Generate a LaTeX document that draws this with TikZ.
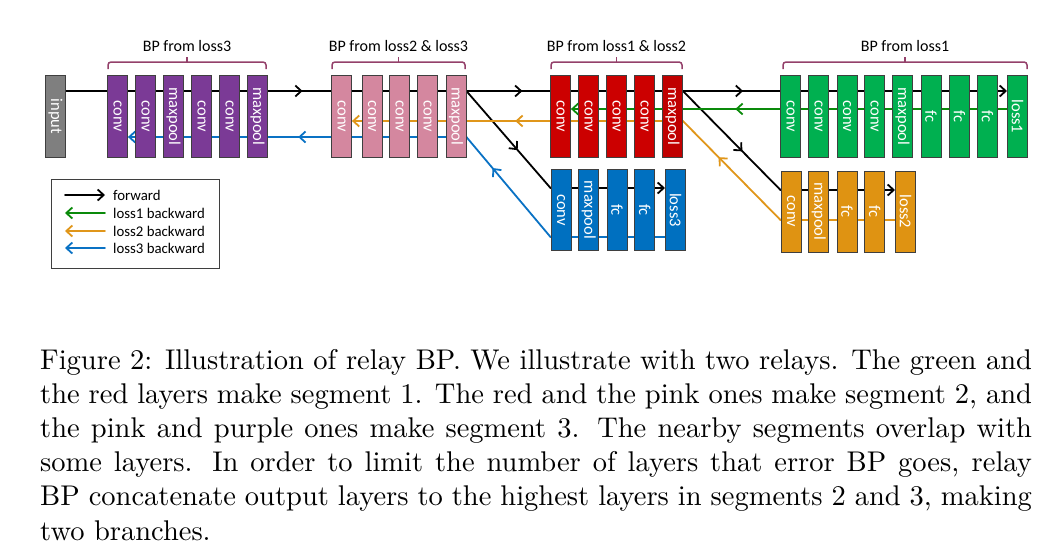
\documentclass[tikz,border=0pt]{standalone}
\usepackage{fontspec}
\newfontfamily\calib{Carlito}
\usetikzlibrary{arrows.meta,decorations.markings}
\pgfdeclarelayer{bg}
\pgfsetlayers{bg,main}
\definecolor{cgray}{HTML}{7F7F7F}
\definecolor{cpurple}{HTML}{7B3A96}
\definecolor{cpink}{HTML}{D4879F}
\definecolor{cred}{HTML}{CC0000}
\definecolor{cdred}{HTML}{C00000}
\definecolor{cgreen}{HTML}{00B050}
\definecolor{cblue}{HTML}{0070C0}
\definecolor{corange}{HTML}{DF9312}
\definecolor{lgreen}{HTML}{0A8A0A}
\definecolor{lorange}{HTML}{E0961A}
\definecolor{lblue}{HTML}{0A72C4}
\definecolor{cbrace}{HTML}{94406A}
\definecolor{cedge}{HTML}{3F3F3F}
\newcommand\vt[1]{\rotatebox{-90}{#1}}
\newcommand\capl[1]{\hbox to 348pt{#1}}
\begin{document}
\begin{tikzpicture}[x=1pt,y=-1pt,
  >={Straight Barb[length=6pt,width=11pt]},
  lay/.style={draw=cedge, line width=0.9pt, minimum width=20pt, minimum height=82pt,
    inner sep=0pt, anchor=north west, text=white, font=\calib\fontsize{16.5}{18}\selectfont},
  brl/.style={lay, minimum height=81pt},
  fwdl/.style={line width=1.8pt, black, line cap=round},
  g1l/.style={line width=1.8pt, lgreen, line cap=round},
  g2l/.style={line width=1.8pt, lorange, line cap=round},
  g3l/.style={line width=1.8pt, lblue, line cap=round},
  midarr/.style={postaction={decorate,decoration={markings,mark=at position #1 with {\arrow{>}}}}},
  bracestyle/.style={draw=cbrace, line width=1.5pt, rounded corners=3pt},
  bracetext/.style={anchor=base, inner sep=0pt, font=\calib\fontsize{16}{18}\selectfont},
  legtext/.style={anchor=base west, inner sep=0pt, font=\calib\fontsize{14.8}{16}\selectfont},
]
\useasboundingbox (0,0) rectangle (1060,552);
% main row
\node[lay, fill=cgray] (in) at (45,75) {\vt{input}};
\node[lay, fill=cpurple] (pu1) at (107,75) {\vt{conv}};
\node[lay, fill=cpurple] (pu2) at (135,75) {\vt{conv}};
\node[lay, fill=cpurple] (pu3) at (163,75) {\vt{maxpool}};
\node[lay, fill=cpurple] (pu4) at (191,75) {\vt{conv}};
\node[lay, fill=cpurple] (pu5) at (219,75) {\vt{conv}};
\node[lay, fill=cpurple] (pu6) at (247,75) {\vt{maxpool}};
\node[lay, fill=cpink] (pk1) at (331,75) {\vt{conv}};
\node[lay, fill=cpink] (pk2) at (361.5,75) {\vt{conv}};
\node[lay, fill=cpink] (pk3) at (389,75) {\vt{conv}};
\node[lay, fill=cpink] (pk4) at (417,75) {\vt{conv}};
\node[lay, fill=cpink] (pk5) at (445.5,75) {\vt{maxpool}};
\node[lay, fill=cred] (rd1) at (550,75) {\vt{conv}};
\node[lay, fill=cred] (rd2) at (578,75) {\vt{conv}};
\node[lay, fill=cred] (rd3) at (606,75) {\vt{conv}};
\node[lay, fill=cred] (rd4) at (634,75) {\vt{conv}};
\node[lay, fill=cdred] (rd5) at (662,75) {\vt{maxpool}};
\node[lay, fill=cgreen] (gr1) at (780,75) {\vt{conv}};
\node[lay, fill=cgreen] (gr2) at (808,75) {\vt{conv}};
\node[lay, fill=cgreen] (gr3) at (836.5,75) {\vt{conv}};
\node[lay, fill=cgreen] (gr4) at (864,75) {\vt{conv}};
\node[lay, fill=cgreen] (gr5) at (892,75) {\vt{maxpool}};
\node[lay, fill=cgreen] (gr6) at (920.5,75) {\vt{fc}};
\node[lay, fill=cgreen] (gr7) at (949,75) {\vt{fc}};
\node[lay, fill=cgreen] (gr8) at (977,75) {\vt{fc}};
\node[lay, fill=cgreen] (lo1) at (1007,75) {\vt{loss1}};
% blue branch
\node[brl, fill=cblue] (bl1) at (550.5,169) {\vt{conv}};
\node[brl, fill=cblue] (bl2) at (578.3,169) {\vt{maxpool}};
\node[brl, fill=cblue] (bl3) at (606.5,169) {\vt{fc}};
\node[brl, fill=cblue] (bl4) at (634.3,169) {\vt{fc}};
\node[brl, fill=cblue] (lo3) at (665,169) {\vt{loss3}};
% orange branch
\node[brl, fill=corange] (or1) at (780.5,170.5) {\vt{conv}};
\node[brl, fill=corange] (or2) at (808.3,170.5) {\vt{maxpool}};
\node[brl, fill=corange] (or3) at (836.5,170.5) {\vt{fc}};
\node[brl, fill=corange] (or4) at (864.3,170.5) {\vt{fc}};
\node[brl, fill=corange] (lo2) at (895,170.5) {\vt{loss2}};

\begin{pgfonlayer}{bg}
% forward
\draw[fwdl] (in.east |- 0,91) -- (pu6.east |- 0,91);
\draw[fwdl, midarr=0.55] (pu6.east |- 0,91) -- (pk1.west |- 0,91);
\draw[fwdl] (pk1.west |- 0,91) -- (pk5.east |- 0,91);
\draw[fwdl, midarr=0.67] (pk5.east |- 0,91) -- (rd1.west |- 0,91);
\draw[fwdl] (rd1.west |- 0,91) -- (rd5.east |- 0,91);
\draw[fwdl, midarr=0.62] (rd5.east |- 0,91) -- (gr1.west |- 0,91);
\draw[fwdl, ->] (gr1.west |- 0,91) -- (lo1.west |- 0,91);
\draw[fwdl, midarr=0.61] (pk5.east |- 0,91) -- (bl1.west |- 0,188);
\draw[fwdl, ->] (bl1.west |- 0,188) -- (lo3.west |- 0,188);
\draw[fwdl, midarr=0.61] (rd5.east |- 0,91) -- (or1.west |- 0,190);
\draw[fwdl, ->] (or1.west |- 0,190) -- (lo2.west |- 0,190);
% loss1 backward
\draw[g1l] (lo1.west |- 0,109) -- (gr1.west |- 0,109);
\draw[g1l, midarr=0.46] (gr1.west |- 0,109) -- (rd5.east |- 0,109);
\draw[g1l, ->] (rd5.east |- 0,109) -- (rd1.east |- 0,109);
% loss2 backward
\draw[g2l] (lo2.west |- 0,220) -- (or1.west |- 0,220);
\draw[g2l, midarr=0.635] (or1.west |- 0,220) -- (rd5.east |- 0,121);
\draw[g2l] (rd5.east |- 0,121) -- (rd1.west |- 0,121);
\draw[g2l, midarr=0.415] (rd1.west |- 0,121) -- (pk5.east |- 0,121);
\draw[g2l, ->] (pk5.east |- 0,121) -- (pk1.east |- 0,121);
% loss3 backward
\draw[g3l] (lo3.west |- 0,237) -- (bl1.west |- 0,237);
\draw[g3l, midarr=0.69] (bl1.west |- 0,237) -- (pk5.east |- 0,137);
\draw[g3l] (pk5.east |- 0,137) -- (pk1.west |- 0,137);
\draw[g3l, midarr=0.52] (pk1.west |- 0,137) -- (pu6.east |- 0,137);
\draw[g3l, ->] (pu6.east |- 0,137) -- (pu1.east |- 0,137);
\end{pgfonlayer}

% braces
\draw[bracestyle] (108,69) -- (108,62) -- (266,62) -- (266,69);
\draw[draw=cbrace, line width=1.5pt] (187,62) -- (187,56.5);
\node[bracetext] (b1) at (187,51) {BP from loss3};
\draw[bracestyle] (332,69) -- (332,62) -- (465,62) -- (465,69);
\draw[draw=cbrace, line width=1.5pt] (398.5,62) -- (398.5,56.5);
\node[bracetext] (b2) at (398.5,51) {BP from loss2 \& loss3};
\draw[bracestyle] (551,69) -- (551,62) -- (682,62) -- (682,69);
\draw[draw=cbrace, line width=1.5pt] (616.5,62) -- (616.5,56.5);
\node[bracetext] (b3) at (616.5,51) {BP from loss1 \& loss2};
\draw[bracestyle] (783,69) -- (783,62) -- (1027,62) -- (1027,69);
\draw[draw=cbrace, line width=1.5pt] (905,62) -- (905,56.5);
\node[bracetext] (b4) at (905,51) {BP from loss1};

% legend
\node[draw=cedge, line width=1pt, minimum width=168.3pt, minimum height=89pt, inner sep=0pt, anchor=north west] (leg) at (50.7,179) {};
\coordinate (la1) at (65,195); \coordinate (lb1) at (105,195);
\coordinate (la2) at (65,213); \coordinate (lb2) at (105,213);
\coordinate (la3) at (65,231); \coordinate (lb3) at (105,231);
\coordinate (la4) at (65,248); \coordinate (lb4) at (105,248);
\draw[fwdl, ->] (la1) -- (lb1);
\draw[g1l, ->] (lb2) -- (la2);
\draw[g2l, ->] (lb3) -- (la3);
\draw[g3l, ->] (lb4) -- (la4);
\node[legtext] (lt1) at (113,200) {forward};
\node[legtext] (lt2) at (113,218) {loss1 backward};
\node[legtext] (lt3) at (113,236) {loss2 backward};
\node[legtext] (lt4) at (113,253) {loss3 backward};

% caption
\node[anchor=base west, inner sep=0pt] (cap) at (40,369) {\scalebox{2.85}{\vtop{\hsize=348pt \fontsize{10}{12}\selectfont \baselineskip=12pt
\capl{Figure 2: Illustration of relay BP. We illustrate with two relays. The green and}
\capl{the red layers make segment 1. The red and the pink ones make segment 2, and}
\capl{the pink and purple ones make segment 3. The nearby segments overlap with}
\capl{some layers. In order to limit the number of layers that error BP goes, relay}
\capl{BP concatenate output layers to the highest layers in segments 2 and 3, making}
\hbox{two branches.}}}};
\end{tikzpicture}
\end{document}
